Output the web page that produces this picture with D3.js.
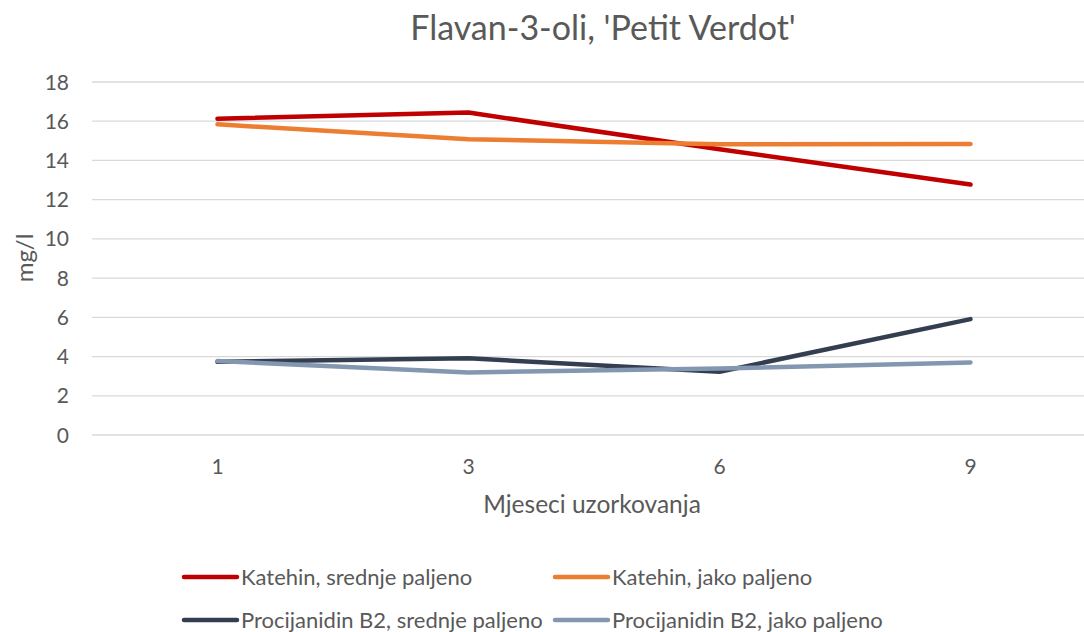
<!DOCTYPE html>
<html>
<meta charset="utf-8">
<style>
  body { margin: 0; background: #fff; }
  text { font-family: Lato, "Open Sans", sans-serif; fill: #595959; }
</style>
<body>
<script src="https://d3js.org/d3.v7.min.js"></script>
<script>
  // months of sampling
  const months = ["1", "3", "6", "9"];
  const katehinSrednje = [16.13, 16.44, 14.57, 12.77];
  const katehinJako = [15.84, 15.08, 14.83, 14.84];
  const procSrednje = [3.73, 3.91, 3.22, 5.91];
  const procJako = [3.77, 3.19, 3.39, 3.70];
  const yTicks = [0, 2, 4, 6, 8, 10, 12, 14, 16, 18];

  const series = [
    {name: "Katehin, srednje paljeno", values: katehinSrednje, color: "#c00000"},
    {name: "Katehin, jako paljeno", values: katehinJako, color: "#ed7d31"},
    {name: "Procijanidin B2, srednje paljeno", values: procSrednje, color: "#333f50"},
    {name: "Procijanidin B2, jako paljeno", values: procJako, color: "#8497b0"}
  ];

  const W = 1084, H = 632;
  const plot = {left: 92, right: 1096, top: 82, bottom: 435};

  const svg = d3.select("body").append("svg")
      .attr("width", W).attr("height", H);

  const x = d3.scaleBand().domain(months).range([plot.left, plot.right]);
  const y = d3.scaleLinear().domain([0, 18]).range([plot.bottom, plot.top]);

  // gridlines
  svg.append("g").selectAll("line")
    .data(yTicks)
    .join("line")
      .attr("x1", plot.left).attr("x2", plot.right)
      .attr("y1", d => y(d)).attr("y2", d => y(d))
      .attr("stroke", "#d9d9d9").attr("stroke-width", 1.3);

  // y tick labels
  svg.append("g").selectAll("text")
    .data(yTicks)
    .join("text")
      .attr("x", 69).attr("y", d => y(d))
      .attr("dy", "0.36em")
      .attr("text-anchor", "end")
      .style("font-size", "21px")
      .text(d => d);

  // x tick labels
  svg.append("g").selectAll("text")
    .data(months)
    .join("text")
      .attr("x", d => x(d) + x.bandwidth() / 2)
      .attr("y", 474)
      .attr("text-anchor", "middle")
      .style("font-size", "21px")
      .text(d => d);

  // lines
  const line = d3.line()
      .x((d, i) => x(months[i]) + x.bandwidth() / 2)
      .y(d => y(d));

  svg.append("g").selectAll("path")
    .data(series)
    .join("path")
      .attr("d", d => line(d.values))
      .attr("fill", "none")
      .attr("stroke", d => d.color)
      .attr("stroke-width", 4.5)
      .attr("stroke-linecap", "round")
      .attr("stroke-linejoin", "round");

  // titles
  svg.append("text")
      .attr("x", 603).attr("y", 40)
      .attr("text-anchor", "middle")
      .style("font-size", "34px")
      .text("Flavan-3-oli, 'Petit Verdot'");

  svg.append("text")
      .attr("x", 592).attr("y", 513)
      .attr("text-anchor", "middle")
      .style("font-size", "24.5px")
      .text("Mjeseci uzorkovanja");

  svg.append("text")
      .attr("transform", "translate(33,258) rotate(-90)")
      .attr("text-anchor", "middle")
      .style("font-size", "24px")
      .text("mg/l");

  // legend
  const legendPos = [[182, 577], [553, 577], [182, 620], [553, 620]];
  const leg = svg.append("g").selectAll("g")
    .data(series)
    .join("g")
      .attr("transform", (d, i) => `translate(${legendPos[i][0]},${legendPos[i][1]})`);

  leg.append("line")
      .attr("x1", 2).attr("x2", 55)
      .attr("stroke", d => d.color)
      .attr("stroke-width", 4.5)
      .attr("stroke-linecap", "round");

  leg.append("text")
      .attr("x", 59).attr("dy", "0.36em")
      .style("font-size", "22px")
      .text(d => d.name);
</script>
</body>
</html>
